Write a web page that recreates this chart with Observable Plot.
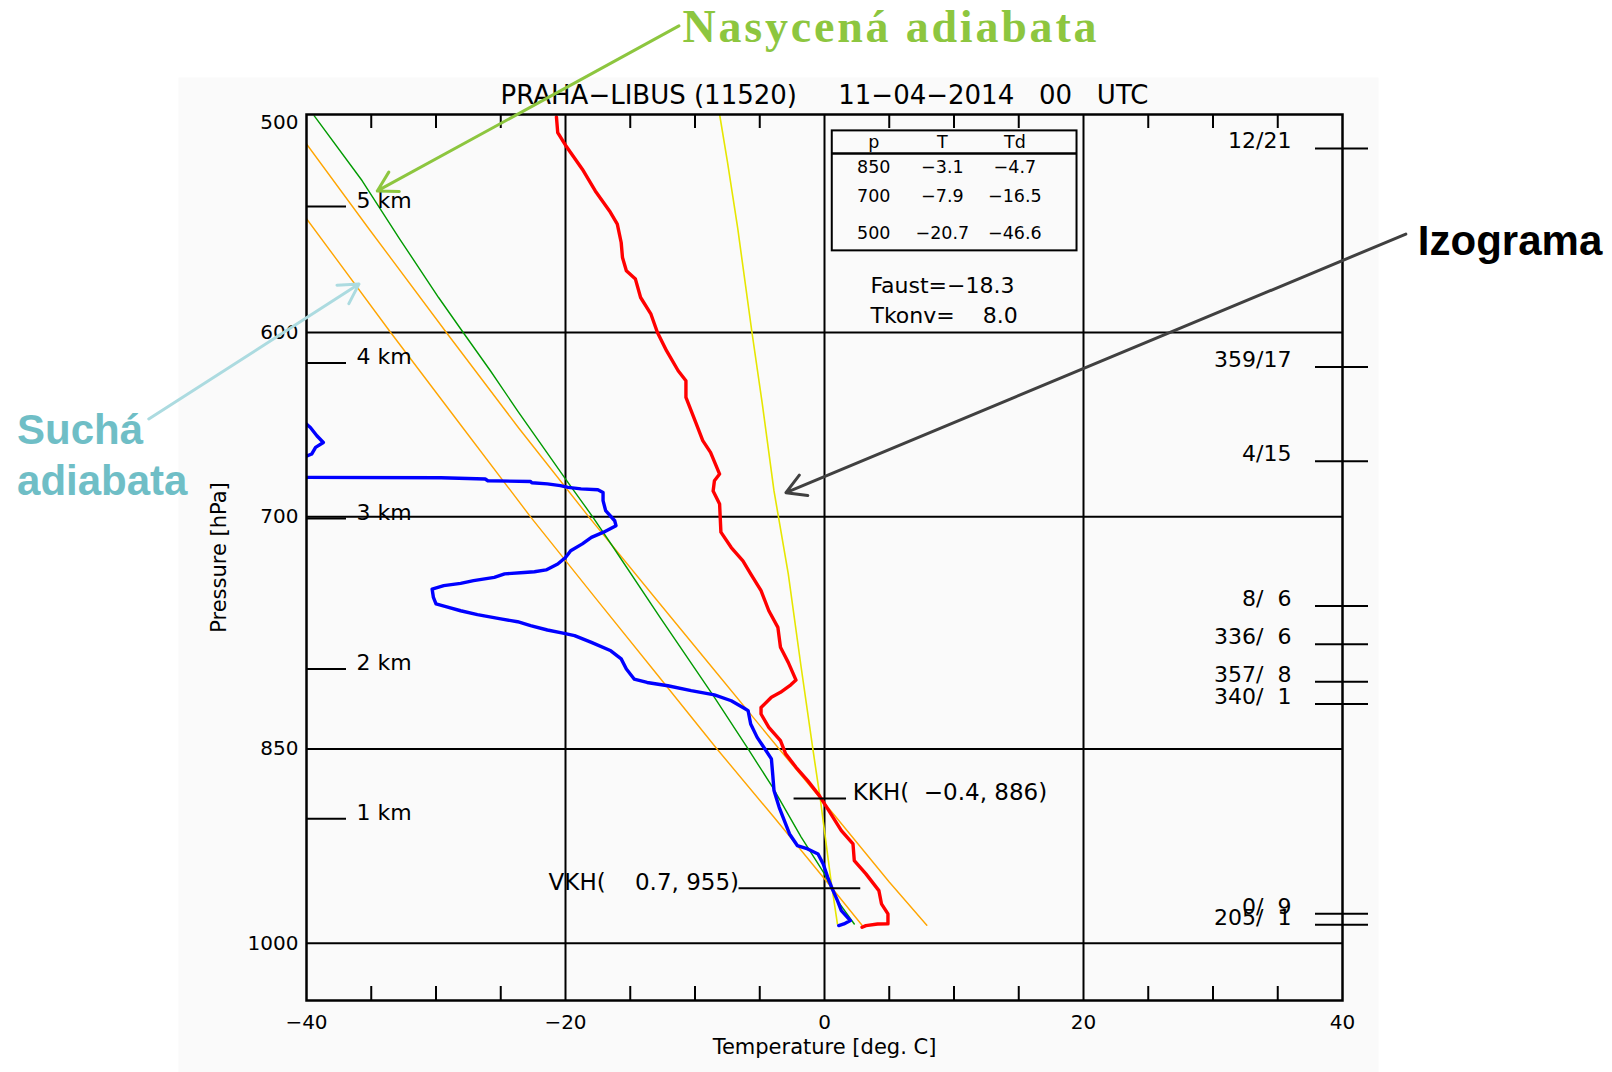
<!DOCTYPE html>
<html>
<head>
<meta charset="utf-8">
<script src="https://cdn.jsdelivr.net/npm/d3@7"></script>
<script src="https://cdn.jsdelivr.net/npm/@observablehq/plot@0.6"></script>
<style>
  html, body { margin: 0; padding: 0; background: #ffffff; }
  body { width: 1612px; height: 1072px; overflow: hidden; }
  g[aria-description="nasycena"] text { letter-spacing: 2.8px; }
</style>
</head>
<body>
<div id="chart"></div>
<script>
// ---------------- data ----------------
const NB = "\u00a0";   // no-break space
const FS = "\u2007";   // figure space (digit wide)
const titleText = "PRAHA−LIBUS (11520)" + NB.repeat(5) + "11−04−2014" + NB.repeat(3) + "00" + NB.repeat(3) + "UTC";

// temperature sounding (red)
const tempPressure = [501, 507.6, 513, 523.4, 533, 542, 548, 556.5, 563.5, 569.8, 573.8, 582.7, 590.9, 600, 609.2, 619.5, 624.7, 633.5, 647.7, 656.8, 663.3, 675.4, 679.2, 685, 692.6, 709, 718.2, 726.2, 734.2, 744.6, 757.2, 767.8, 780.7, 790.6, 802.4, 805.6, 810.7, 814, 821, 825.5, 834.8, 844.1, 853.5, 863.1, 872.8, 883.8, 893.7, 910.1, 920.3, 933.2, 943.6, 956.9, 967.5, 975.7, 983.9, 984, 985.3, 986.7];
const tempValue = [-20.7, -20.6, -20.0, -18.7, -17.7, -16.6, -16.0, -15.7, -15.6, -15.3, -14.6, -14.2, -13.4, -12.9, -12.2, -11.3, -10.7, -10.7, -9.9, -9.4, -8.8, -8.1, -8.5, -8.6, -8.1, -8.0, -7.2, -6.3, -5.7, -4.9, -4.3, -3.6, -3.4, -2.8, -2.2, -2.6, -3.4, -4.1, -4.9, -4.9, -4.3, -3.4, -3.0, -2.2, -1.3, -0.4, 0.25, 1.3, 2.2, 2.3, 3.2, 4.2, 4.4, 4.9, 4.9, 4.1, 3.2, 2.9];

// dew point sounding (blue)
const dewPressure = [500, 640, 647.4, 649.6, 654.1, 657.8, 660.5, 664.2, 665.7, 670, 676.9, 677.5, 678.2, 679.2, 679.6, 680.3, 681, 682, 683, 683.8, 684.3, 685.9, 690.6, 696.4, 702.3, 705.2, 709.2, 712.1, 716, 720.1, 724.2, 728.2, 731.8, 732.9, 733.4, 734.2, 736.4, 738.4, 740.1, 741.5, 743.6, 748.8, 752.9, 754.9, 757.2, 759.7, 762.4, 764.2, 766.7, 769.5, 771.7, 773.1, 777.5, 783, 788.3, 795, 801.7, 804, 806.2, 809.5, 812.4, 816.4, 821.5, 823.2, 832.4, 841.8, 850, 857.1, 868, 880.1, 892.5, 902.5, 912.6, 921.5, 924.1, 928, 935.8, 946.3, 955.5, 964.9, 973, 981.2, 983.9, 985.3];
const dewValue = [-46.6, -41.5, -40.07, -39.7, -39.2, -38.7, -39.3, -39.6, -40.1, -48, -60, -29.6, -26.2, -26.0, -22.7, -22.6, -21.4, -20.4, -19.8, -18.8, -17.5, -17.1, -17.1, -16.9, -16.2, -16.1, -17.1, -18.0, -18.7, -19.6, -20.0, -20.6, -21.5, -22.4, -23.2, -24.7, -25.5, -27.1, -28.1, -29.4, -30.3, -30.2, -30.0, -29.1, -28.1, -26.8, -25.0, -23.7, -22.7, -21.4, -20.1, -19.3, -18.0, -16.5, -15.7, -15.3, -14.7, -13.7, -12.1, -10.3, -8.5, -7.2, -6.2, -5.9, -5.7, -5.2, -4.6, -4.1, -4.0, -3.9, -3.5, -3.1, -2.7, -2.1, -1.3, -0.5, -0.1, 0.25, 0.6, 1.0, 1.3, 2.0, 1.5, 1.1];

// dry adiabats (orange)
const dryAdiabatAPressure = [512.5, 550, 600, 650, 700, 750, 800, 850, 900, 950, 985];
const dryAdiabatAValue = [-40, -35.2, -29.2, -23.6, -18.2, -13.0, -8.1, -3.5, 0.9, 5.0, 7.9];
const dryAdiabatBPressure = [545.5, 600, 650, 700, 750, 800, 850, 900, 950, 985];
const dryAdiabatBValue = [-40, -33.5, -27.9, -22.7, -17.6, -12.8, -8.3, -3.9, 0.2, 2.9];

// saturated adiabat (green)
const moistAdiabatPressure = [500.6, 528.5, 554.9, 582.7, 600, 619.5, 640.6, 680.3, 700, 718.2, 761.4, 812.8, 850, 877.7, 915, 943.6, 965, 984];
const moistAdiabatValue = [-39.4, -35.7, -32.8, -29.8, -27.9, -25.8, -23.7, -19.8, -17.9, -16.3, -12.7, -8.6, -5.9, -4.0, -1.8, 0.0, 1.0, 2.3];

// isogram (yellow)
const isogramPressure = [500, 520, 550, 600, 637, 685, 734, 794, 850, 888, 949, 984];
const isogramValue = [-8.1, -7.5, -6.7, -5.6, -4.8, -3.9, -2.8, -1.8, -0.9, -0.3, 0.5, 1.0];

// heights (left) and winds (right)
const heightLabels = ["1 km", "2 km", "3 km", "4 km", "5 km"];
const heightPressure = [901, 795, 701, 615.5, 540];
const windLabels = ["12/21", "359/17", "4/15", "8/" + FS + "6", "336/" + FS + "6", "357/" + FS + "8", "340/" + FS + "1", "0/" + FS + "9", "205/" + FS + "1"];
const windPressure = [514.4, 617.5, 668.2, 754.2, 778.7, 803.6, 818.7, 975.6, 984.6];

// axes
const xTickLabels = [-40, -20, 0, 20, 40];
const xGridLines = [-20, 0, 20];
const xMinorTicks = [-35, -30, -25, -15, -10, -5, 5, 10, 15, 25, 30, 35];
const pTickLabels = [500, 600, 700, 850, 1000];
const pGridLines = [600, 700, 850, 1000];

// inset table
const tableHeader = ["p", "T", "Td"];
const tableLevel = ["850", "700", "500"];
const tableT = ["−3.1", "−7.9", "−20.7"];
const tableTd = ["−4.7", "−16.5", "−46.6"];
const indexLabels = ["Faust=−18.3", "Tkonv=" + FS.repeat(2) + "8.0"];

// condensation levels
const levelNames = ["KKH", "VKH"];
const levelT = [-0.4, 0.7];
const levelP = [886, 955];

// slide annotations
const annotationTexts = ["Nasycená adiabata", "Suchá", "adiabata", "Izograma"];

// ---------------- layout / styles ----------------
const W = 1612, H = 1072;
const mL = 306, mR = 270, mT = 114, mB = 72;
const frameW = W - mL - mR, frameH = H - mT - mB;
const FONT = "DejaVu Sans";

const rows = (P, T) => P.map((p, i) => ({p, t: T[i]}));
const temp = rows(tempPressure, tempValue);
const dew = rows(dewPressure, dewValue);
const dryA = rows(dryAdiabatAPressure, dryAdiabatAValue);
const dryB = rows(dryAdiabatBPressure, dryAdiabatBValue);
const moist = rows(moistAdiabatPressure, moistAdiabatValue);
const isogram = rows(isogramPressure, isogramValue);
const heights = heightLabels.map((label, i) => ({label, p: heightPressure[i]}));
const winds = windLabels.map((label, i) => ({label, p: windPressure[i]}));

// table placement (data coordinates inside the frame)
const tableColT = [3.8, 9.1, 14.7];
const tableHeaderP = 511.9, tableRowP = [522.7, 535.6, 552.3];
const tableBox = [{t1: 0.6, t2: 19.5, p1: 506.9, p2: 560.4}];
const tableSep = [{t1: 0.6, t2: 19.5, p: 516.6}];
const tableCells = [];
tableHeader.forEach((s, j) => tableCells.push({t: tableColT[j], p: tableHeaderP, s}));
[tableLevel, tableT, tableTd].forEach((col, j) => col.forEach((s, i) => tableCells.push({t: tableColT[j], p: tableRowP[i], s})));
const indexCells = indexLabels.map((s, i) => ({s, t: 3.55, p: [576.9, 591.6][i]}));

const fmtLevel = (name, t, p) => `${name}(${t.toFixed(1).replace("-", "−").padStart(5, FS)},${NB}${p})`;
const levels = levelNames.map((name, i) => ({name, t: levelT[i], p: levelP[i], label: fmtLevel(name, levelT[i], levelP[i])}));
const kkh = levels.filter(d => d.name === "KKH");
const vkh = levels.filter(d => d.name === "VKH");

const annText = [
  {s: annotationTexts[0], t: -10.97, p: 464.7, color: "#8dc63f"},
  {s: annotationTexts[1], t: -62.35, p: 651.3, color: "#6fbec6"},
  {s: annotationTexts[2], t: -62.35, p: 679.9, color: "#6fbec6"},
  {s: annotationTexts[3], t: 45.82, p: 555.9, color: "#000000"}
];
const annArrows = [
  {t1: -11.24, p1: 464.3, t2: -34.53, p2: 533.0, color: "#8dc63f"},
  {t1: -52.18, p1: 645.0, t2: -35.95, p2: 576.2, color: "#acdbe0"},
  {t1: 44.89, p1: 552.6, t2: -2.975, p2: 686.0, color: "#404040"}
];

const chart = Plot.plot({
  width: W, height: H,
  marginLeft: mL, marginRight: mR, marginTop: mT, marginBottom: mB,
  style: {fontFamily: FONT, fontSize: "20px", background: "transparent", overflow: "visible", color: "#000"},
  x: {domain: [-40, 40], axis: null},
  y: {type: "log", domain: [1049, 500], axis: null},
  color: {type: "identity"},
  marks: [
    // light panel behind the diagram
    Plot.frame({fill: "#fafafa", stroke: "none", insetLeft: -128, insetRight: -36, insetTop: -37, insetBottom: -72}),
    // grid
    Plot.ruleX(xGridLines, {x: d => d, stroke: "#000", strokeWidth: 2}),
    Plot.ruleY(pGridLines, {y: d => d, stroke: "#000", strokeWidth: 2}),
    Plot.ruleX(xMinorTicks, {x: d => d, insetTop: frameH - 14, stroke: "#000", strokeWidth: 2}),
    Plot.ruleX(xMinorTicks, {x: d => d, insetBottom: frameH - 14, stroke: "#000", strokeWidth: 2}),
    // reference curves
    Plot.line(dryB, {x: "t", y: "p", stroke: "#ffa500", strokeWidth: 1.4, clip: true}),
    Plot.line(dryA, {x: "t", y: "p", stroke: "#ffa500", strokeWidth: 1.4, clip: true}),
    Plot.line(moist, {x: "t", y: "p", stroke: "#009a00", strokeWidth: 1.4, clip: true}),
    Plot.line(isogram, {x: "t", y: "p", stroke: "#e6e600", strokeWidth: 1.6, clip: true}),
    // soundings
    Plot.line(dew, {x: "t", y: "p", stroke: "#0000ff", strokeWidth: 3.4, clip: true}),
    Plot.line(temp, {x: "t", y: "p", stroke: "#ff0000", strokeWidth: 3.4, clip: true}),
    // condensation levels
    Plot.ruleY(kkh, {y: "p", x1: d => d.t - 1.95, x2: d => d.t + 2.1, stroke: "#000", strokeWidth: 2}),
    Plot.ruleY(vkh, {y: "p", x1: -6.6, x2: d => d.t + 2.1, stroke: "#000", strokeWidth: 2}),
    Plot.text(kkh, {x: d => d.t + 2.58, y: "p", text: "label", textAnchor: "start", lineAnchor: "middle", dy: -6, fontSize: 23}),
    Plot.text(vkh, {x: -6.6, y: "p", text: "label", textAnchor: "end", lineAnchor: "middle", dy: -6, fontSize: 23}),
    // frame
    Plot.frame({stroke: "#000", strokeWidth: 2.5}),
    // tick labels
    Plot.text(xTickLabels, {x: d => d, text: d => d < 0 ? "−" + Math.abs(d) : String(d), frameAnchor: "bottom", lineAnchor: "middle", dy: 22, fontSize: 20}),
    Plot.text(pTickLabels.filter(d => d !== 500), {y: d => d, text: d => String(d), frameAnchor: "left", textAnchor: "end", lineAnchor: "middle", dx: -8, fontSize: 20}),
    Plot.text(pTickLabels.filter(d => d === 500), {y: d => d, text: d => String(d), frameAnchor: "left", textAnchor: "end", lineAnchor: "middle", dx: -8, dy: 8, fontSize: 20}),
    Plot.text(["Temperature [deg. C]"], {text: d => d, frameAnchor: "bottom", textAnchor: "middle", lineAnchor: "middle", dy: 47, fontSize: 21}),
    Plot.text(["Pressure [hPa]"], {text: d => d, frameAnchor: "left", textAnchor: "middle", lineAnchor: "middle", dx: -87, rotate: -90, fontSize: 21}),
    Plot.text([titleText], {text: d => d, frameAnchor: "top", textAnchor: "middle", lineAnchor: "middle", dy: -19, fontSize: 26}),
    // heights
    Plot.ruleY(heights, {y: "p", insetRight: frameW - 40, stroke: "#000", strokeWidth: 2}),
    Plot.text(heights, {y: "p", text: "label", frameAnchor: "left", textAnchor: "start", lineAnchor: "middle", dx: 50, dy: -6, fontSize: 22}),
    // winds
    Plot.ruleY(winds, {y: "p", insetLeft: frameW - 27, insetRight: -26, stroke: "#000", strokeWidth: 2}),
    Plot.text(winds, {y: "p", text: "label", frameAnchor: "right", textAnchor: "end", lineAnchor: "middle", dx: -51, dy: -7, fontSize: 22}),
    // inset table
    Plot.rect(tableBox, {x1: "t1", x2: "t2", y1: "p1", y2: "p2", fill: "none", stroke: "#000", strokeWidth: 2}),
    Plot.ruleY(tableSep, {y: "p", x1: "t1", x2: "t2", stroke: "#000", strokeWidth: 2.5}),
    Plot.text(tableCells, {x: "t", y: "p", text: "s", fontSize: 17.5}),
    Plot.text(indexCells, {x: "t", y: "p", text: "s", textAnchor: "start", fontSize: 22}),
    // slide annotations
    Plot.arrow(annArrows, {x1: "t1", y1: "p1", x2: "t2", y2: "p2", stroke: "color", strokeWidth: 3, headLength: 11, headAngle: 60}),
    Plot.text(annText.slice(0, 1), {x: "t", y: "p", text: "s", fill: "color", textAnchor: "start", lineAnchor: "middle", fontFamily: "Liberation Serif", fontWeight: "bold", fontSize: 46, ariaDescription: "nasycena"}),
    Plot.text(annText.slice(1), {x: "t", y: "p", text: "s", fill: "color", textAnchor: "start", lineAnchor: "middle", fontFamily: "Liberation Sans", fontWeight: "bold", fontSize: 42})
  ]
});
document.getElementById("chart").appendChild(chart);
</script>
</body>
</html>
